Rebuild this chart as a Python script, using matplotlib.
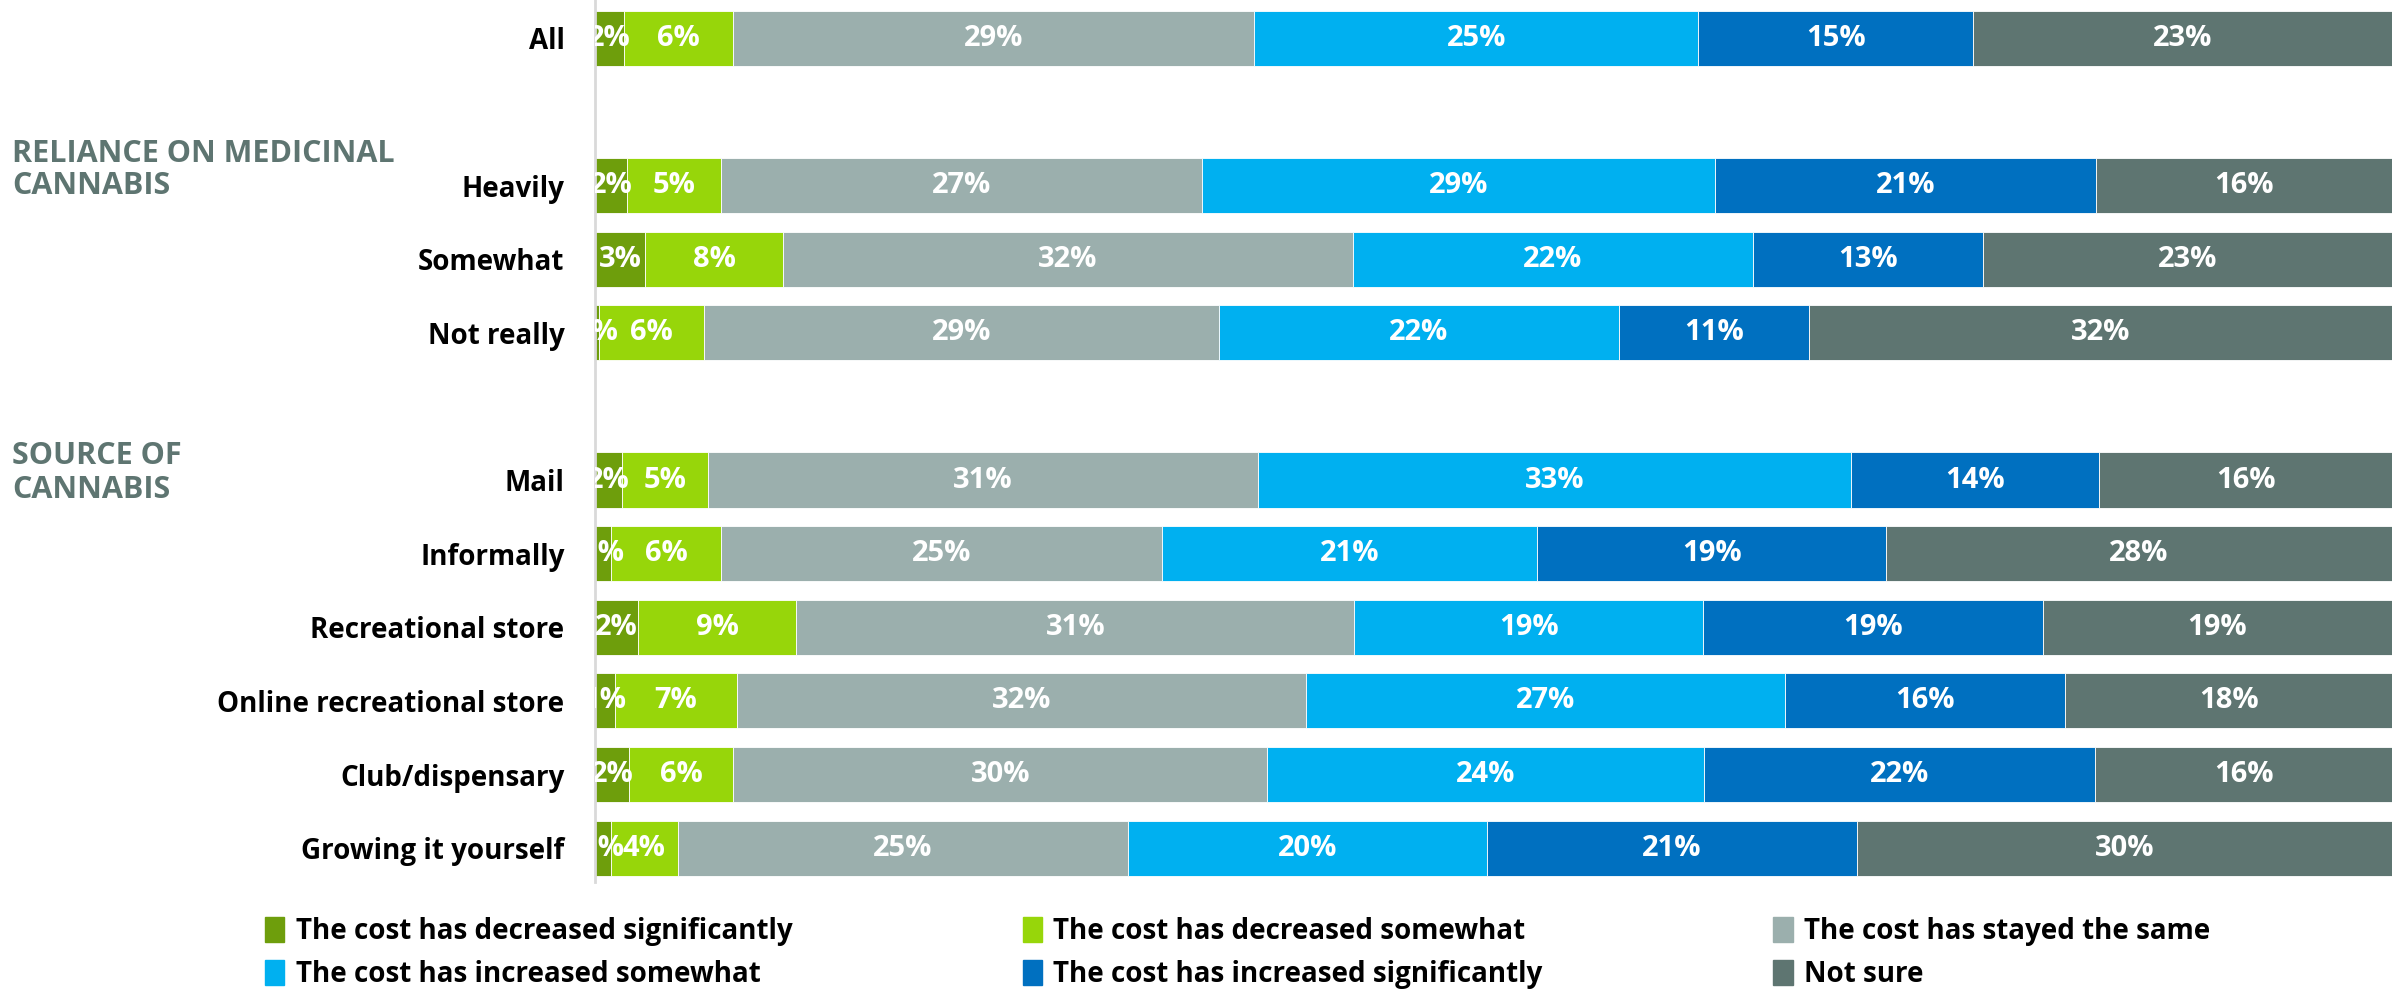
import numpy as np
import matplotlib.pyplot as plt
from matplotlib.patches import Patch

plt.rcParams['font.family'] = ['Open Sans', 'DejaVu Sans']

rows = ['All', 'Heavily', 'Somewhat', 'Not really', 'Mail', 'Informally',
        'Recreational store', 'Online recreational store', 'Club/dispensary',
        'Growing it yourself']
row_pos = [0, 2, 3, 4, 6, 7, 8, 9, 10, 11]

categories = ['The cost has decreased significantly', 'The cost has decreased somewhat',
              'The cost has stayed the same', 'The cost has increased somewhat',
              'The cost has increased significantly', 'Not sure']
colors = ['#6E9E0C', '#97D60A', '#9BAFAD', '#00B0F0', '#0070C0', '#5E7571']

# values (percent), labels are rounded
decreased_sig = [1.6, 1.8, 2.8, 0.2, 1.5, 0.9, 2.4, 1.1, 1.9, 0.9]
decreased_some = [6.1, 5.2, 7.7, 5.9, 4.8, 6.1, 8.8, 6.8, 5.8, 3.7]
stayed_same = [29.0, 26.8, 31.7, 28.7, 30.6, 24.6, 31.0, 31.7, 29.7, 25.1]
increased_some = [24.7, 28.6, 22.3, 22.3, 33.0, 20.9, 19.4, 26.7, 24.3, 20.0]
increased_sig = [15.3, 21.2, 12.8, 10.6, 13.8, 19.4, 18.9, 15.6, 21.8, 20.6]
not_sure = [23.3, 16.5, 22.8, 32.5, 16.3, 28.2, 19.4, 18.2, 16.5, 29.8]

series = [decreased_sig, decreased_some, stayed_same, increased_some, increased_sig, not_sure]

fig = plt.figure(figsize=(24.04, 9.91), dpi=100)
ax = fig.add_axes([0.2475, 0.11, 0.7475, 0.89])

raw = np.array(series)
data = raw / raw.sum(axis=0) * 100

left = np.zeros(len(rows))
for vals, rvals, col in zip(data, raw, colors):
    ax.barh(row_pos, vals, left=left, height=0.75, color=col, edgecolor='white', linewidth=0.6)
    for y, l, v, r in zip(row_pos, left, vals, rvals):
        ax.text(l + v / 2, y, f'{round(r):d}%', ha='center', va='center',
                color='white', fontsize=21, fontweight='bold', clip_on=True)
    left += vals

ax.set_xlim(0, 100)
ax.set_ylim(11.46, -0.52)
ax.set_yticks(row_pos)
ax.set_yticklabels(rows, fontsize=20, fontweight='bold')
ax.tick_params(axis='y', length=0, pad=22)
ax.set_xticks([])
for s in ['top', 'right', 'bottom']:
    ax.spines[s].set_visible(False)
ax.spines['left'].set_color('#d9d9d9')
ax.spines['left'].set_linewidth(2)

# group headers
hdr = dict(color='#5E7571', fontsize=22, fontweight='bold', ha='left', va='center')
fig.text(12 / 2404, 1 - 154 / 991, 'RELIANCE ON MEDICINAL', **hdr)
fig.text(12 / 2404, 1 - 186 / 991, 'CANNABIS', **hdr)
fig.text(12 / 2404, 1 - 456 / 991, 'SOURCE OF', **hdr)
fig.text(12 / 2404, 1 - 490 / 991, 'CANNABIS', **hdr)

# legend: matplotlib fills columns first, reorder so it reads row by row
order = [0, 3, 1, 4, 2, 5]
handles = [Patch(color=colors[i]) for i in order]
labels = [categories[i] for i in order]
fig.legend(handles, labels, loc='lower left', bbox_to_anchor=(240 / 2404, -0.023),
           ncol=3, frameon=False, prop={'weight': 'bold', 'size': 20},
           handlelength=0.7, handleheight=1.0, handletextpad=0.4,
           columnspacing=8.3, labelspacing=0.5)

fig.savefig('out.png', dpi=100)
